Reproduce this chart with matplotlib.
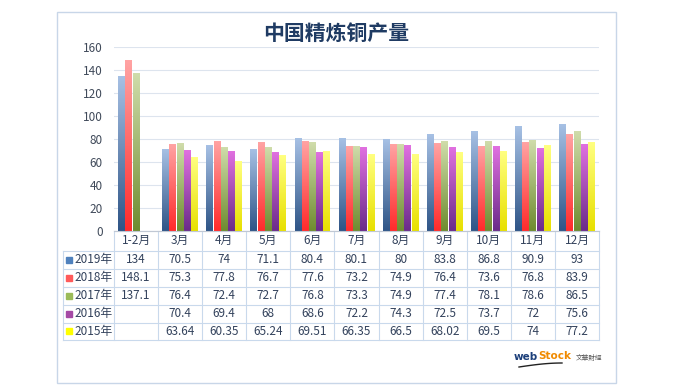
import numpy as np
import matplotlib.pyplot as plt
from matplotlib.colors import LinearSegmentedColormap
from matplotlib.patches import Rectangle

plt.rcParams['font.family'] = ['Noto Sans CJK SC', 'DejaVu Sans']

months = ['1-2月', '3月', '4月', '5月', '6月', '7月', '8月', '9月', '10月', '11月', '12月']
years = ['2019年', '2018年', '2017年', '2016年', '2015年']
v2019 = [134, 70.5, 74, 71.1, 80.4, 80.1, 80, 83.8, 86.8, 90.9, 93]
v2018 = [148.1, 75.3, 77.8, 76.7, 77.6, 73.2, 74.9, 76.4, 73.6, 76.8, 83.9]
v2017 = [137.1, 76.4, 72.4, 72.7, 76.8, 73.3, 74.9, 77.4, 78.1, 78.6, 86.5]
v2016 = [None, 70.4, 69.4, 68, 68.6, 72.2, 74.3, 72.5, 73.7, 72, 75.6]
v2015 = [None, 63.64, 60.35, 65.24, 69.51, 66.35, 66.5, 68.02, 69.5, 74, 77.2]
series = [v2019, v2018, v2017, v2016, v2015]

# (top, bottom) gradient colours, plus legend key colour
grads = [('#a6c0e4', '#2f5587'), ('#ffa3a3', '#ff2b2b'), ('#cfdcaa', '#6f8c30'),
         ('#e070e0', '#6a2c8a'), ('#ffff80', '#e8e000')]
keys = ['#4f81bd', '#ff5a5a', '#9bbb59', '#a54aa5', '#ffff00']

W, H = 691, 390
fig = plt.figure(figsize=(W / 100, H / 100), dpi=100)

# background axes in pixel coordinates for frame, title and table
bg = fig.add_axes([0, 0, 1, 1])
bg.set_xlim(0, W)
bg.set_ylim(H, 0)
bg.axis('off')
bg.add_patch(Rectangle((57, 12), 559, 371, fill=False, ec='#c8d6e8', lw=1))
bg.text(336, 33, '中国精炼铜产量', ha='center', va='center', fontsize=15,
        fontweight='bold', color='#1f3b63')

px0, px1, py0, py1 = 114, 599, 47, 231
ax = fig.add_axes([px0 / W, 1 - py1 / H, (px1 - px0) / W, (py1 - py0) / H])
ax.set_xlim(-0.5, len(months) - 0.5)
ax.set_ylim(0, 160)
ax.set_yticks(range(0, 161, 20))
ax.tick_params(axis='y', length=0, labelsize=8.5, labelcolor='#404a5a', pad=8)
ax.set_xticks([])
for s in ['top', 'right', 'left']:
    ax.spines[s].set_visible(False)
ax.spines['bottom'].set_color('#c0c8d4')
ax.grid(axis='y', color='#dde4ee', lw=0.8)
ax.set_axisbelow(True)
ax.patch.set_alpha(0)

x = np.arange(len(months))
bw = 0.155
for i, vals in enumerate(series):
    h = np.array([np.nan if v is None else v for v in vals], dtype=float)
    bars = ax.bar(x + (i - 2) * bw * 1.06, np.nan_to_num(h), width=bw, color='none')
    cmap = LinearSegmentedColormap.from_list('g%d' % i, [grads[i][1], grads[i][0]])
    grad = np.linspace(0, 1, 64).reshape(-1, 1)
    for b, hv in zip(bars, h):
        if np.isnan(hv):
            continue
        x0 = b.get_x()
        ax.imshow(grad, extent=(x0, x0 + b.get_width(), 0, hv), origin='lower',
                  aspect='auto', cmap=cmap, zorder=2)
ax.set_xlim(-0.5, len(months) - 0.5)
ax.set_ylim(0, 160)

# data table
lc = '#c9d9ec'
tx0 = 63
rows_y = [231, 250.5, 268.5, 286.5, 304.5, 322.5, 340]
cw = (px1 - px0) / len(months)
tc = '#33425c'
for yy in rows_y:
    bg.plot([tx0 if yy > 240 else px0, px1], [yy, yy], color=lc, lw=0.8)
bg.plot([tx0, tx0], [rows_y[1], rows_y[-1]], color=lc, lw=0.8)
for j in range(len(months) + 1):
    xx = px0 + j * cw
    bg.plot([xx, xx], [rows_y[0], rows_y[-1]], color=lc, lw=0.8)
for j, m in enumerate(months):
    bg.text(px0 + (j + 0.5) * cw, (rows_y[0] + rows_y[1]) / 2, m, ha='center',
            va='center', fontsize=8.5, color=tc)
for i, (yr, vals) in enumerate(zip(years, series)):
    yc = (rows_y[i + 1] + rows_y[i + 2]) / 2
    bg.add_patch(Rectangle((tx0 + 3, yc - 3), 6, 6, color=keys[i]))
    bg.text(tx0 + 11, yc, yr, ha='left', va='center', fontsize=8.5, color=tc)
    for j, v in enumerate(vals):
        if v is None:
            continue
        bg.text(px0 + (j + 0.5) * cw, yc, '%g' % v, ha='center', va='center',
                fontsize=8.5, color=tc)

# watermark
bg.text(538, 357, 'web', fontsize=7.5, fontweight='bold', color='#1c3f7a',
        ha='right', va='center', family='DejaVu Sans')
bg.text(538, 356, 'Stock', fontsize=7.5, fontweight='bold', color='#f08a00',
        ha='left', va='center', family='DejaVu Sans')
bg.text(576, 358, '文華財經', fontsize=4.8, color='#555555', ha='left', va='center')
sx = np.linspace(519, 562, 30)
bg.plot(sx, 367 - 4 * np.sin((sx - 519) / 43 * np.pi / 2), color='#222222', lw=1)

fig.savefig('out.png', dpi=100)
